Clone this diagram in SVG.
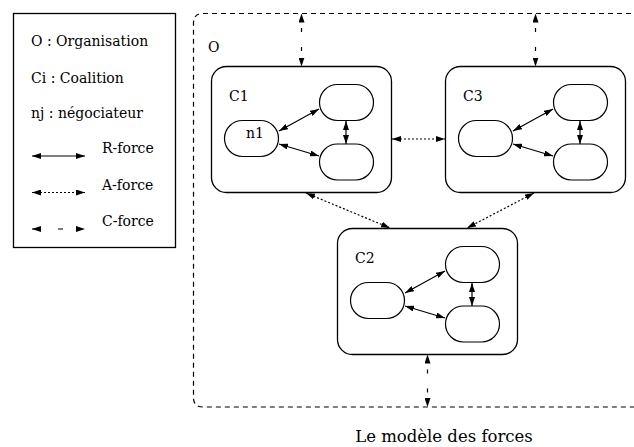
<svg xmlns="http://www.w3.org/2000/svg" width="634" height="447" viewBox="0 0 634 447">
<defs>
<marker id="ah" viewBox="0 0 9 6" refX="9" refY="3" markerWidth="9" markerHeight="6" markerUnits="userSpaceOnUse" orient="auto-start-reverse">
<path d="M0,0 L9,3 L0,6 z" fill="#000"/>
</marker>
<style>
text{font-family:"DejaVu Serif","Liberation Serif",serif;font-size:14px;fill:#000}
.box{fill:#fff;stroke:#000;stroke-width:1.3}
.node{fill:#fff;stroke:#000;stroke-width:1.2}
.r{stroke:#000;stroke-width:1.2;fill:none;marker-start:url(#ah);marker-end:url(#ah)}
.a{stroke:#000;stroke-width:1.2;fill:none;stroke-dasharray:2,2;marker-start:url(#ah);marker-end:url(#ah)}
.c{stroke:#000;stroke-width:1.2;fill:none;stroke-dasharray:4,15;stroke-dashoffset:-14.5;marker-start:url(#ah);marker-end:url(#ah)}
</style>
</defs>
<rect width="634" height="447" fill="#fff"/>
<g id="legend">
<rect x="13.5" y="13.5" width="162" height="234" fill="#fff" stroke="#000" stroke-width="1.3"/>
<text x="31" y="46">O : Organisation</text>
<text x="31" y="82.5">Ci : Coalition</text>
<text x="31" y="118">nj : négociateur</text>
<text x="102" y="153">R-force</text>
<text x="102" y="190">A-force</text>
<text x="102" y="226">C-force</text>
<line class="r" x1="32" y1="156" x2="85" y2="156"/>
<line class="a" x1="32" y1="192.5" x2="85" y2="192.5"/>
<line class="c" x1="32" y1="229" x2="85" y2="229" style="stroke-dasharray:9,17,5,40;stroke-dashoffset:0"/>
</g>
<g id="O">
<path d="M640,13.5 H203 Q193.5,13.5 193.5,23 V397.5 Q193.5,407 203,407 H640" fill="none" stroke="#000" stroke-width="1.2" stroke-dasharray="5,4"/>
<text x="208" y="52">O</text>
</g>
<g id="C1">
<rect class="box" x="211.5" y="66.5" width="180" height="126" rx="15"/>
<text x="229" y="101">C1</text>
<rect class="node" x="224.5" y="120.5" width="54" height="36" rx="18"/>
<text x="246" y="138">n1</text>
<rect class="node" x="319.5" y="84.5" width="54" height="36" rx="18"/>
<rect class="node" x="319.5" y="144" width="54" height="36" rx="18"/>
</g>
<g id="C3">
<rect class="box" x="445.5" y="66.5" width="180" height="126" rx="15"/>
<text x="463" y="101">C3</text>
<rect class="node" x="458.5" y="120.5" width="54" height="36" rx="18"/>
<rect class="node" x="553.5" y="84.5" width="54" height="36" rx="18"/>
<rect class="node" x="553.5" y="144" width="54" height="36" rx="18"/>
</g>
<g id="C2">
<rect class="box" x="337.5" y="228.5" width="180" height="126" rx="15"/>
<text x="355" y="263">C2</text>
<rect class="node" x="350.5" y="282.5" width="54" height="36" rx="18"/>
<rect class="node" x="445.5" y="246.5" width="54" height="36" rx="18"/>
<rect class="node" x="445.5" y="306" width="54" height="36" rx="18"/>
</g>
<g id="connectors">
<line class="r" x1="279" y1="131" x2="319" y2="109"/>
<line class="r" x1="279" y1="144" x2="319" y2="156"/>
<line class="r" x1="346" y1="121" x2="346" y2="144"/>
<line class="r" x1="513" y1="131" x2="553" y2="109"/>
<line class="r" x1="513" y1="144" x2="553" y2="156"/>
<line class="r" x1="580" y1="121" x2="580" y2="144"/>
<line class="r" x1="405" y1="293" x2="445" y2="271"/>
<line class="r" x1="405" y1="306" x2="445" y2="318"/>
<line class="r" x1="472" y1="283" x2="472" y2="306"/>
<line class="a" x1="392" y1="139" x2="445" y2="139"/>
<line class="a" x1="306" y1="193" x2="390" y2="228"/>
<line class="a" x1="534" y1="193" x2="467" y2="228"/>
<line class="c" x1="301.5" y1="13.5" x2="301.5" y2="66.5"/>
<line class="c" x1="535.5" y1="13.5" x2="535.5" y2="66.5"/>
<line class="c" x1="427.5" y1="407" x2="427.5" y2="354.5"/>
</g>
<text x="444" y="442" text-anchor="middle" style="font-size:16.5px">Le modèle des forces</text>
</svg>
